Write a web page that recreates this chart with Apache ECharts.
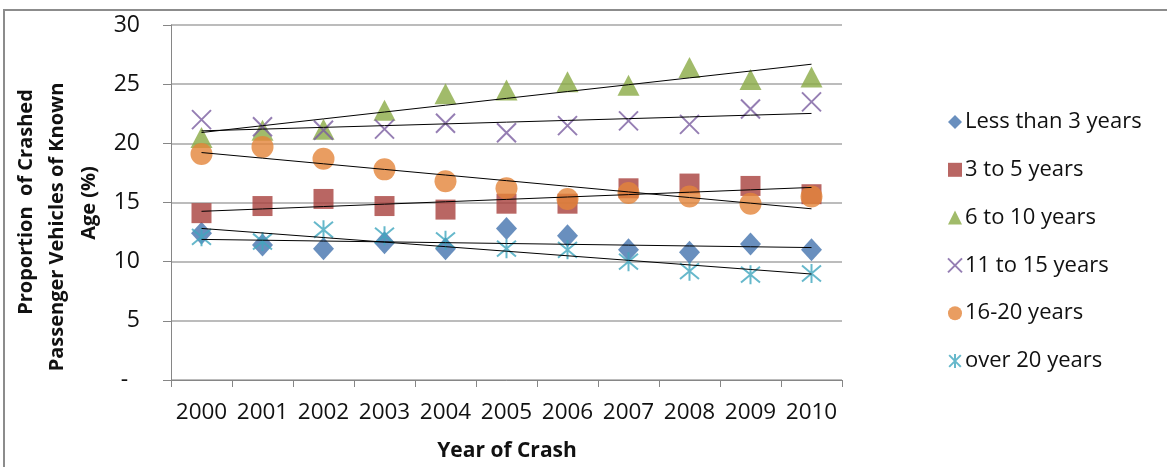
<!DOCTYPE html>
<html>
<head>
<meta charset="utf-8">
<script src="https://cdn.jsdelivr.net/npm/echarts@6/dist/echarts.min.js"></script>
<style>
html,body{margin:0;padding:0;background:#fff;}
#chart{width:1167px;height:467px;}
</style>
</head>
<body>
<div id="chart"></div>
<script>
var years = ['2000','2001','2002','2003','2004','2005','2006','2007','2008','2009','2010'];
var yTicks = [0, 5, 10, 15, 20, 25, 30];
var seriesNames = ['Less than 3 years','3 to 5 years','6 to 10 years','11 to 15 years','16-20 years','over 20 years'];
var lessThan3 = [12.4, 11.4, 11.1, 11.6, 11.1, 12.8, 12.2, 11.0, 10.8, 11.5, 11.0];
var threeTo5 = [14.1, 14.7, 15.3, 14.7, 14.4, 14.9, 14.9, 16.2, 16.6, 16.4, 15.7];
var sixTo10 = [20.5, 21.1, 21.2, 22.8, 24.2, 24.5, 25.2, 24.9, 26.4, 25.4, 25.6];
var elevenTo15 = [22.0, 21.4, 21.1, 21.2, 21.7, 20.9, 21.5, 21.9, 21.6, 22.9, 23.5];
var sixteenTo20 = [19.1, 19.7, 18.7, 17.8, 16.8, 16.2, 15.3, 15.8, 15.5, 14.9, 15.5];
var over20 = [12.1, 11.7, 12.7, 12.2, 11.8, 11.1, 11.0, 10.0, 9.2, 8.9, 9.0];
var yTitleLines = ['Proportion  of Crashed', 'Passenger Vehicles of Known', 'Age (%)'];
var xTitle = 'Year of Crash';

var allData = [lessThan3, threeTo5, sixTo10, elevenTo15, sixteenTo20, over20];
var colors = ['#4373AE', '#A8403C', '#8AAA45', '#7B5EA0', '#E4853A', '#40A6BE'];
var symbols = ['diamond', 'rect', 'triangle',
  'path://M0,0L10,10M10,0L0,10',
  'circle',
  'path://M0,0L10,10M10,0L0,10M5,-1L5,11'];
var sizes = [[21,23], 20, [22,21], 19, 22, 19];
var stroked = [false, false, false, true, false, true];

function trend(vals) {
  var n = vals.length, mx = 0, my = 0;
  for (var i = 0; i < n; i++) { mx += i; my += vals[i]; }
  mx /= n; my /= n;
  var sxy = 0, sxx = 0;
  for (var j = 0; j < n; j++) { sxy += (j - mx) * (vals[j] - my); sxx += (j - mx) * (j - mx); }
  var b = sxy / sxx, a = my - b * mx;
  return vals.map(function (v, k) { return +(a + b * k).toFixed(4); });
}

var FONT = 'Open Sans';
var series = [];
allData.forEach(function (d, i) {
  var st = stroked[i]
    ? { color: 'rgba(0,0,0,0)', borderColor: colors[i], borderWidth: 2 }
    : { color: colors[i] };
  series.push({
    name: seriesNames[i], type: 'scatter', data: d,
    symbol: symbols[i], symbolSize: sizes[i],
    itemStyle: st, z: 2, emphasis: { disabled: true }
  });
});
allData.forEach(function (d) {
  series.push({
    type: 'line', data: trend(d), showSymbol: false, symbol: 'none',
    lineStyle: { color: '#000', width: 1 }, z: 5, silent: true
  });
});

var titleFont = 'bold 20px "Open Sans"';
var chart = echarts.init(document.getElementById('chart'));
chart.setOption({
  animation: false,
  backgroundColor: '#fff',
  grid: { left: 171, right: 325, top: 25, bottom: 87 },
  xAxis: {
    type: 'category', data: years, boundaryGap: true,
    axisLine: { lineStyle: { color: '#868686', width: 1 } },
    axisTick: { show: true, length: 7, interval: 0, lineStyle: { color: '#868686' } },
    axisLabel: { color: '#111', fontFamily: FONT, fontSize: 22.5, margin: 21, interval: 0, hideOverlap: false },
    splitLine: { show: false }
  },
  yAxis: {
    type: 'value', min: 0, max: 30, interval: 5,
    axisLine: { show: true, lineStyle: { color: '#868686', width: 1 } },
    axisTick: { show: true, length: 8, lineStyle: { color: '#868686' } },
    axisLabel: {
      color: '#111', fontFamily: FONT, fontSize: 23, margin: 31,
      formatter: function (v) { return yTicks.indexOf(v) === 0 ? '-  ' : String(v); }
    },
    splitLine: { show: true, lineStyle: { color: '#A6A6A6', width: 1.5 } }
  },
  legend: {
    orient: 'vertical', left: 942, top: 105,
    data: seriesNames,
    itemWidth: 14, itemHeight: 14, itemGap: 23.8,
    textStyle: { color: '#111', fontFamily: FONT, fontSize: 22, lineHeight: 24, padding: [0,0,0,-2] }
  },
  graphic: [
    { type: 'rect', shape: { x: 4, y: 10, width: 1300, height: 600 },
      style: { fill: 'none', stroke: '#8C8C8C', lineWidth: 2 }, silent: true, z: 0 },
    { type: 'text', x: 26, y: 202, rotation: Math.PI / 2,
      style: { text: yTitleLines[0], fill: '#111', font: titleFont, textAlign: 'center', textVerticalAlign: 'middle' } },
    { type: 'text', x: 57, y: 227, rotation: Math.PI / 2,
      style: { text: yTitleLines[1], fill: '#111', font: titleFont, textAlign: 'center', textVerticalAlign: 'middle' } },
    { type: 'text', x: 89, y: 203, rotation: Math.PI / 2,
      style: { text: yTitleLines[2], fill: '#111', font: titleFont, textAlign: 'center', textVerticalAlign: 'middle' } },
    { type: 'text', x: 507, y: 451,
      style: { text: xTitle, fill: '#111', font: 'bold 21px "Open Sans"', textAlign: 'center', textVerticalAlign: 'middle' } }
  ],
  series: series
});
</script>
</body>
</html>
